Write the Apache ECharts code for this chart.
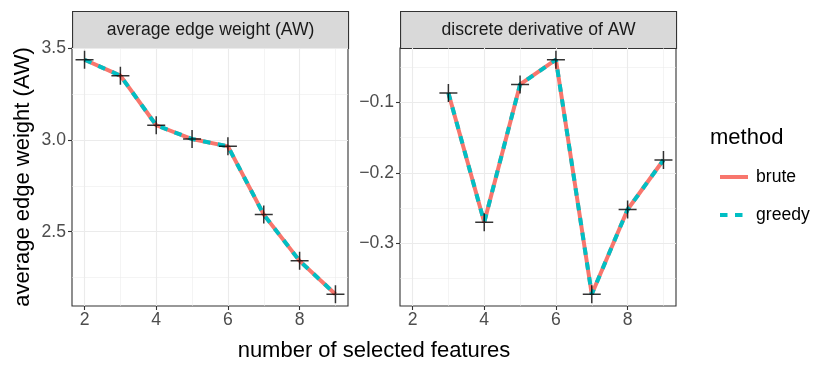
<!DOCTYPE html>
<html>
<head>
<meta charset="utf-8">
<script src="https://cdn.jsdelivr.net/npm/echarts@6/dist/echarts.min.js"></script>
<style>
  html, body { margin: 0; padding: 0; background: #fff; }
  #container { width: 830px; height: 373px; }
</style>
</head>
<body>
<div id="container"></div>
<script>
// data
const features = [2, 3, 4, 5, 6, 7, 8, 9];
const awBrute = [3.437, 3.350, 3.080, 3.005, 2.965, 2.593, 2.341, 2.159];
const awGreedy = [3.437, 3.350, 3.080, 3.005, 2.965, 2.593, 2.341, 2.159];

const derivFeatures = [3, 4, 5, 6, 7, 8, 9];
const dBrute = [-0.087, -0.270, -0.075, -0.040, -0.372, -0.252, -0.182];
const dGreedy = [-0.087, -0.270, -0.075, -0.040, -0.372, -0.252, -0.182];

const xTicks = [2, 4, 6, 8];
const xMinor = [3, 5, 7, 9];
const awTicks = [2.5, 3.0, 3.5];
const awMinor = [2.25, 2.75, 3.25];
const dTicks = [-0.3, -0.2, -0.1];
const dMinor = [-0.35, -0.25, -0.15, -0.05];

const panelTitles = ['average edge weight (AW)', 'discrete derivative of AW'];

const FONT = '"Liberation Sans", Arial, Helvetica, sans-serif';
const RED = '#F8766D';
const CYAN = '#00BFC4';
const PLUS = 'path://M8.25,0 H9.75 V8.25 H18 V9.75 H9.75 V18 H8.25 V9.75 H0 V8.25 H8.25 Z';

const zip = (xs, ys) => xs.map((x, i) => [x, ys[i]]);
const fmt = v => v.toFixed(1).replace('-', '\u2212');

// ggplot style: 5% expansion
const expand = (vals) => {
  const lo = Math.min(...vals), hi = Math.max(...vals), d = (hi - lo) * 0.05;
  return [lo - d, hi + d];
};
const xr = expand(features);
const awr = expand(awBrute);
const dr = expand(dBrute);

const panels = [
  { left: 72, top: 48, width: 276, height: 258 },
  { left: 400, top: 48, width: 276, height: 258 }
];

function majorAxis(grid, range, ticks, isY) {
  return {
    type: 'value', gridIndex: grid, min: range[0], max: range[1],
    position: isY ? 'left' : 'bottom',
    axisLine: { show: false },
    axisTick: { show: true, customValues: ticks, length: 4, lineStyle: { color: '#333333', width: 1.1 } },
    axisLabel: {
      customValues: ticks, color: '#4D4D4D', fontSize: 17.6, fontFamily: FONT,
      margin: isY ? 6 : 5, formatter: isY ? fmt : (v => String(v))
    },
    splitLine: { show: true, lineStyle: { color: '#EBEBEB', width: 1.1 } }
  };
}
function minorAxis(grid, range, ticks, isY) {
  return {
    type: 'value', gridIndex: grid, min: range[0], max: range[1],
    position: isY ? 'left' : 'bottom',
    axisLine: { show: false },
    axisTick: { show: false, customValues: ticks },
    axisLabel: { show: false, customValues: ticks },
    splitLine: { show: true, lineStyle: { color: '#EBEBEB', width: 0.55 } }
  };
}

const myChart = echarts.init(document.getElementById('container'), null, { renderer: 'canvas' });

const option = {
  animation: false,
  backgroundColor: '#ffffff',
  textStyle: { fontFamily: FONT },
  grid: panels.map(p => ({
    left: p.left, top: p.top, width: p.width, height: p.height,
    show: true, backgroundColor: '#ffffff', borderColor: '#333333', borderWidth: 1.1,
    containLabel: false
  })),
  xAxis: [
    minorAxis(0, xr, xMinor, false),
    majorAxis(0, xr, xTicks, false),
    minorAxis(1, xr, xMinor, false),
    majorAxis(1, xr, xTicks, false)
  ],
  yAxis: [
    minorAxis(0, awr, awMinor, true),
    majorAxis(0, awr, awTicks, true),
    minorAxis(1, dr, dMinor, true),
    majorAxis(1, dr, dTicks, true)
  ],
  legend: {
    data: ['brute', 'greedy'],
    orient: 'vertical',
    left: 713, top: 163,
    itemWidth: 28, itemHeight: 14, itemGap: 20,
    itemStyle: { opacity: 0 },
    lineStyle: { width: 4 },
    textStyle: { fontSize: 17.6, color: '#000', fontFamily: FONT, padding: [0, 0, 0, 3] }
  },
  series: [
    { name: 'brute', type: 'line', xAxisIndex: 1, yAxisIndex: 1, data: zip(features, awBrute),
      symbol: 'none', lineStyle: { color: RED, width: 4 }, itemStyle: { color: RED }, z: 2 },
    { name: 'greedy', type: 'line', xAxisIndex: 1, yAxisIndex: 1, data: zip(features, awGreedy),
      symbol: 'none', lineStyle: { color: CYAN, width: 4, type: [7.5, 7.5] }, itemStyle: { color: CYAN }, z: 2 },
    { name: 'brute', type: 'line', xAxisIndex: 3, yAxisIndex: 3, data: zip(derivFeatures, dBrute),
      symbol: 'none', lineStyle: { color: RED, width: 4 }, itemStyle: { color: RED }, z: 2 },
    { name: 'greedy', type: 'line', xAxisIndex: 3, yAxisIndex: 3, data: zip(derivFeatures, dGreedy),
      symbol: 'none', lineStyle: { color: CYAN, width: 4, type: [7.5, 7.5] }, itemStyle: { color: CYAN }, z: 2 },
    { name: 'pts1', type: 'scatter', xAxisIndex: 1, yAxisIndex: 1, data: zip(features, awBrute),
      symbol: PLUS, symbolSize: 18, itemStyle: { color: '#000' }, z: 3 },
    { name: 'pts2', type: 'scatter', xAxisIndex: 3, yAxisIndex: 3, data: zip(derivFeatures, dBrute),
      symbol: PLUS, symbolSize: 18, itemStyle: { color: '#000' }, z: 3 }
  ],
  graphic: [
    ...panels.map((p, i) => ({
      type: 'group', left: p.left, top: 11,
      children: [
        { type: 'rect', shape: { x: 0, y: 0, width: p.width, height: 37 },
          style: { fill: '#D9D9D9', stroke: '#333333', lineWidth: 1.1 } },
        { type: 'text', x: p.width / 2, y: 18.5,
          style: { text: panelTitles[i], fontSize: 17.6, fontFamily: FONT, fill: '#1A1A1A',
                   align: 'center', verticalAlign: 'middle' } }
      ]
    })),
    { type: 'text', x: 374, y: 351,
      style: { text: 'number of selected features', fontSize: 22, fontFamily: FONT, fill: '#000',
               align: 'center', verticalAlign: 'middle' } },
    { type: 'text', x: 23, y: 177, rotation: Math.PI / 2,
      style: { text: 'average edge weight (AW)', fontSize: 22, fontFamily: FONT, fill: '#000',
               align: 'center', verticalAlign: 'middle' } },
    { type: 'text', x: 710, y: 138,
      style: { text: 'method', fontSize: 22, fontFamily: FONT, fill: '#000',
               align: 'left', verticalAlign: 'middle' } }
  ]
};

myChart.setOption(option);
window.addEventListener('resize', () => myChart.resize());
</script>
</body>
</html>
